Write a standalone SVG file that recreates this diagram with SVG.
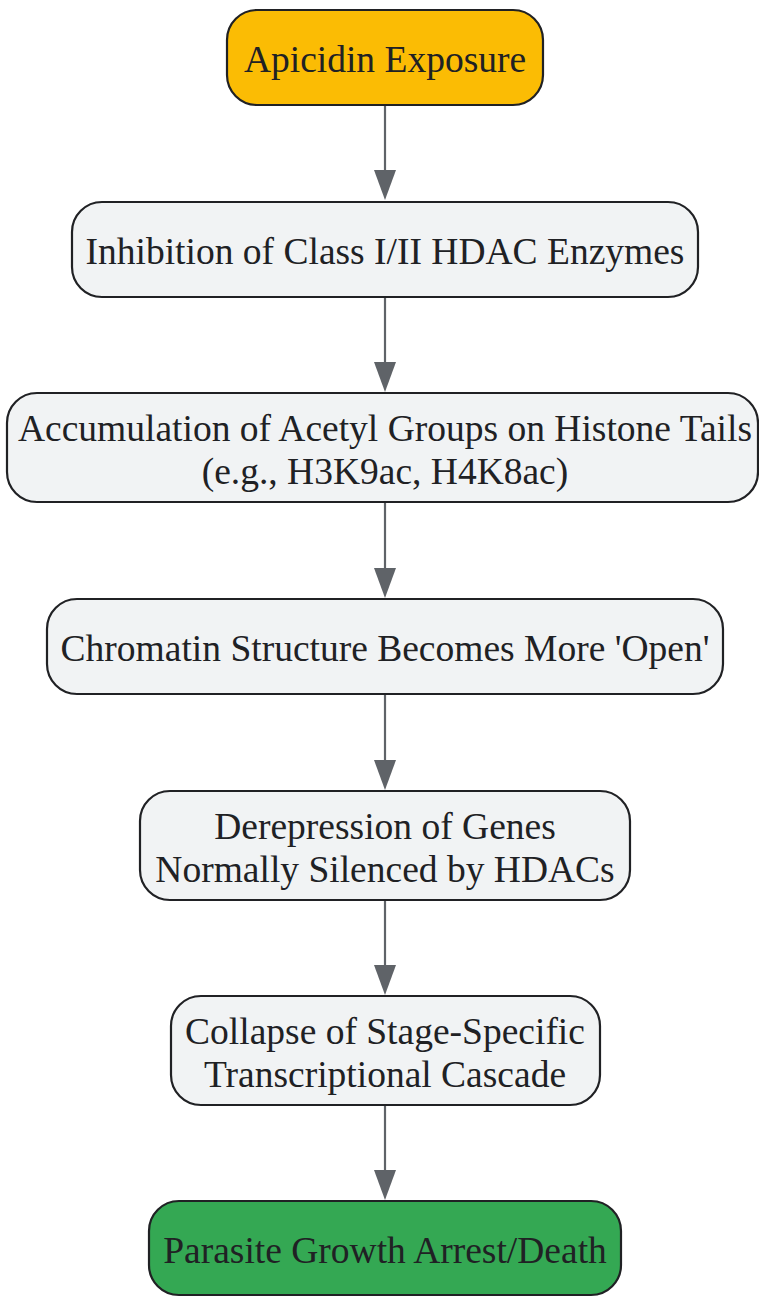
<svg xmlns="http://www.w3.org/2000/svg" width="759" height="1297" viewBox="0 0 759 1297">
<style>
.node rect{stroke:#202124;stroke-width:2.2}
.gray{fill:#f1f3f4}
.yellow{fill:#fbbc04}
.green{fill:#34a853}
text{font-family:"Liberation Serif","Times New Roman",serif;font-size:37.5px;fill:#202124;text-anchor:middle}
.edge{stroke:#5f6368;stroke-width:2.2;fill:none}
.head{fill:#5f6368}
</style>
<g id="connectors">
<line class="edge" x1="385" y1="105" x2="385" y2="170"/><path class="head" d="M374,170 L396,170 L385,200 Z"/>
<line class="edge" x1="385" y1="297" x2="385" y2="362"/><path class="head" d="M374,362 L396,362 L385,392 Z"/>
<line class="edge" x1="385" y1="502" x2="385" y2="568"/><path class="head" d="M374,568 L396,568 L385,598 Z"/>
<line class="edge" x1="385" y1="694" x2="385" y2="760"/><path class="head" d="M374,760 L396,760 L385,790 Z"/>
<line class="edge" x1="385" y1="900" x2="385" y2="965"/><path class="head" d="M374,965 L396,965 L385,995 Z"/>
<line class="edge" x1="385" y1="1105" x2="385" y2="1170"/><path class="head" d="M374,1170 L396,1170 L385,1200 Z"/>
</g>
<g id="n1" class="node"><rect class="yellow" x="227" y="10" width="316" height="95" rx="30"/><text x="385" y="72">Apicidin Exposure</text></g>
<g id="n2" class="node"><rect class="gray" x="72" y="202" width="626" height="95" rx="30"/><text x="385" y="264">Inhibition of Class I/II HDAC Enzymes</text></g>
<g id="n3" class="node"><rect class="gray" x="7" y="393" width="751" height="109" rx="30"/><text x="385" y="441">Accumulation of Acetyl Groups on Histone Tails</text><text x="385" y="484">(e.g., H3K9ac, H4K8ac)</text></g>
<g id="n4" class="node"><rect class="gray" x="47" y="599" width="676" height="95" rx="30"/><text x="385" y="661">Chromatin Structure Becomes More 'Open'</text></g>
<g id="n5" class="node"><rect class="gray" x="140" y="791" width="490" height="109" rx="30"/><text x="385" y="839">Derepression of Genes</text><text x="385" y="882">Normally Silenced by HDACs</text></g>
<g id="n6" class="node"><rect class="gray" x="171" y="996" width="429" height="109" rx="30"/><text x="385" y="1044">Collapse of Stage-Specific</text><text x="385" y="1087">Transcriptional Cascade</text></g>
<g id="n7" class="node"><rect class="green" x="149" y="1201" width="472" height="94" rx="30"/><text x="385" y="1263">Parasite Growth Arrest/Death</text></g>
</svg>
